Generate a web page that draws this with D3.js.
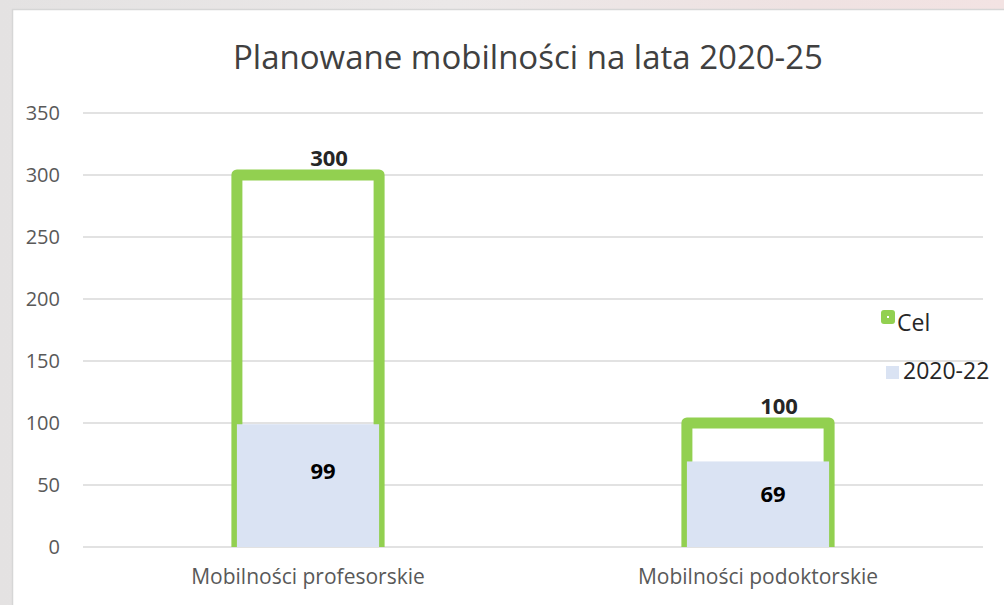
<!DOCTYPE html>
<html>
<head>
<meta charset="utf-8">
<script src="https://cdn.jsdelivr.net/npm/d3@7"></script>
<style>
  body { margin: 0; background: #e6e6e6; }
  text { font-family: "Open Sans", sans-serif; }
</style>
</head>
<body>
<svg width="1004" height="605"></svg>
<script>
// data
var categories = ["Mobilności profesorskie", "Mobilności podoktorskie"];
var celValues = [300, 100];
var doneValues = [99, 69];
var seriesNames = ["Cel", "2020-22"];
var yTicks = [0, 50, 100, 150, 200, 250, 300, 350];

var svg = d3.select("svg"),
    width = +svg.attr("width"),
    height = +svg.attr("height");

// blurred slide background behind the chart
var defs = svg.append("defs");
var bgGrad = defs.append("linearGradient").attr("id", "bg");
bgGrad.append("stop").attr("offset", "0%").attr("stop-color", "#e4e2e2");
bgGrad.append("stop").attr("offset", "45%").attr("stop-color", "#ebe8e8");
bgGrad.append("stop").attr("offset", "80%").attr("stop-color", "#efe2e2");
bgGrad.append("stop").attr("offset", "100%").attr("stop-color", "#f3e3e3");
svg.append("rect").attr("width", width).attr("height", height).attr("fill", "url(#bg)");

// chart area
svg.append("rect")
    .attr("x", 12.5).attr("y", 9.5)
    .attr("width", width).attr("height", height)
    .attr("fill", "#fff")
    .attr("stroke", "#d6d6d6").attr("stroke-width", 1.5);

var plot = {left: 83, right: 983, top: 113, bottom: 547};

var x = d3.scaleBand()
    .domain(categories)
    .range([plot.left, plot.right])
    .paddingInner(0.684)
    .paddingOuter(0.342);

var y = d3.scaleLinear()
    .domain([0, 350])
    .range([plot.bottom, plot.top]);

// gridlines
svg.append("g")
  .selectAll("line")
  .data(yTicks)
  .enter().append("line")
    .attr("x1", plot.left).attr("x2", plot.right)
    .attr("y1", function(d) { return y(d); })
    .attr("y2", function(d) { return y(d); })
    .attr("stroke", "#d9d9d9")
    .attr("stroke-width", 1.5);

// y axis labels
var yAxis = svg.append("g")
    .attr("transform", "translate(" + 60 + ",0)")
    .call(d3.axisLeft(y).tickValues(yTicks).tickSize(0).tickPadding(0));
yAxis.select(".domain").remove();
yAxis.selectAll("text")
    .style("font-family", "Open Sans, sans-serif")
    .style("font-size", "20px")
    .attr("fill", "#595959");

// x axis labels
var xAxis = svg.append("g")
    .attr("transform", "translate(0," + plot.bottom + ")")
    .call(d3.axisBottom(x).tickSize(0).tickPadding(22));
xAxis.select(".domain").remove();
xAxis.selectAll("text")
    .style("font-family", "Open Sans, sans-serif")
    .style("font-size", "21px")
    .attr("fill", "#595959");

// bars are clipped at the axis line
defs.append("clipPath").attr("id", "plotclip")
  .append("rect")
    .attr("x", 0).attr("y", 0)
    .attr("width", width).attr("height", plot.bottom);

var bars = svg.append("g").attr("clip-path", "url(#plotclip)");

bars.selectAll(".cel")
    .data(celValues)
    .enter().append("rect")
    .attr("class", "cel")
    .attr("x", function(d, i) { return x(categories[i]); })
    .attr("y", function(d) { return y(d); })
    .attr("width", x.bandwidth())
    .attr("height", function(d) { return y(0) - y(d); })
    .attr("fill", "none")
    .attr("stroke", "#92d050")
    .attr("stroke-width", 11)
    .attr("stroke-linejoin", "round");

bars.selectAll(".done")
    .data(doneValues)
    .enter().append("rect")
    .attr("class", "done")
    .attr("x", function(d, i) { return x(categories[i]); })
    .attr("y", function(d) { return y(d); })
    .attr("width", x.bandwidth())
    .attr("height", function(d) { return y(0) - y(d); })
    .attr("fill", "#dae3f3");

// data labels
svg.selectAll(".celLabel")
    .data(celValues)
    .enter().append("text")
    .attr("class", "celLabel")
    .attr("x", function(d, i) { return x(categories[i]) + x.bandwidth() / 2 + 21; })
    .attr("y", function(d) { return y(d) - 9; })
    .attr("text-anchor", "middle")
    .style("font-size", "22px")
    .style("font-weight", "bold")
    .attr("fill", "#262626")
    .text(function(d) { return d; });

svg.selectAll(".doneLabel")
    .data(doneValues)
    .enter().append("text")
    .attr("class", "doneLabel")
    .attr("x", function(d, i) { return x(categories[i]) + x.bandwidth() / 2 + 15; })
    .attr("y", function(d) { return y(d) + (y(0) - y(d)) * 0.38 + 8; })
    .attr("text-anchor", "middle")
    .style("font-size", "22px")
    .style("font-weight", "bold")
    .attr("fill", "#000")
    .text(function(d) { return d; });

// title
svg.append("text")
    .attr("x", 528)
    .attr("y", 69)
    .attr("text-anchor", "middle")
    .style("font-size", "33px")
    .attr("fill", "#404040")
    .text("Planowane mobilności na lata 2020-25");

// legend
var legend = svg.append("g").attr("transform", "translate(881,310)");
legend.append("rect")
    .attr("width", 14).attr("height", 14).attr("rx", 3)
    .attr("fill", "#92d050");
legend.append("rect")
    .attr("x", 6).attr("y", 6).attr("width", 2).attr("height", 2)
    .attr("fill", "#fff");
legend.append("text")
    .attr("x", 16).attr("y", 21)
    .style("font-size", "23px")
    .attr("fill", "#262626")
    .text(seriesNames[0]);
legend.append("rect")
    .attr("x", 5).attr("y", 56)
    .attr("width", 13).attr("height", 13)
    .attr("fill", "#dae3f3");
legend.append("text")
    .attr("x", 22).attr("y", 69)
    .style("font-size", "23px")
    .attr("fill", "#262626")
    .text(seriesNames[1]);
</script>
</body>
</html>
